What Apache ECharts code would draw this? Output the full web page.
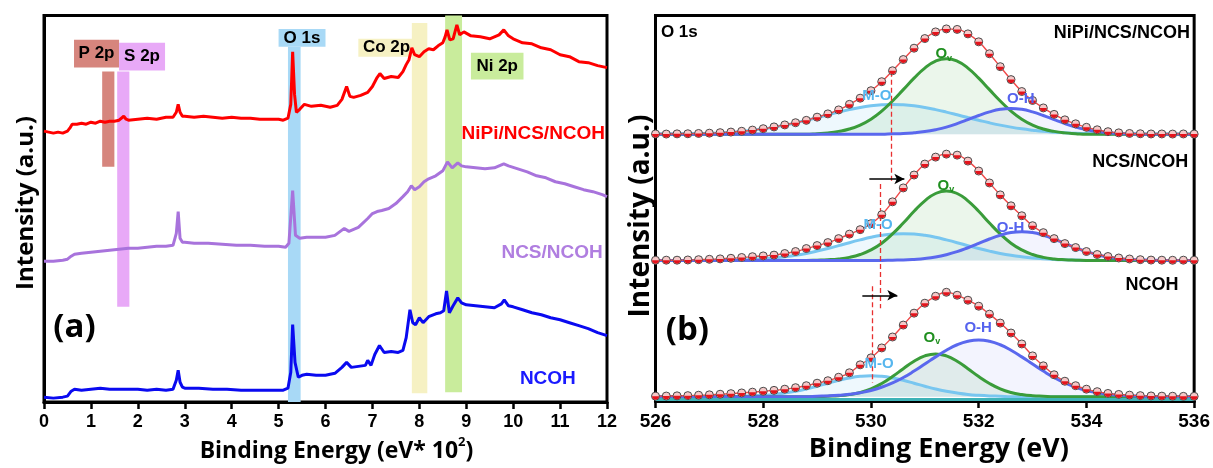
<!DOCTYPE html>
<html><head><meta charset="utf-8">
<script src="https://cdn.jsdelivr.net/npm/echarts@6/dist/echarts.min.js"></script>
<style>html,body{margin:0;padding:0;background:#fff}#c{width:1213px;height:468px}</style>
</head><body><div id="c"></div>
<script>
// ---------- Panel (a): XPS survey spectra  [energy (eV*10^2), intensity] ----------
const surveyNiPi = [[0,273],[0.1,272],[0.2,271],[0.3,272],[0.4,271],[0.5,273],[0.55,276],[0.6,280],[0.7,280],[0.8,281],[0.9,280],[1.0,282],[1.1,281],[1.2,283],[1.3,282],[1.4,283],[1.5,283],[1.6,284],[1.7,288],[1.75,285],[1.8,284],[2.0,285],[2.2,286],[2.4,285],[2.6,287],[2.75,287],[2.82,292],[2.86,300],[2.9,292],[2.95,288],[3.0,288],[3.2,287],[3.4,288],[3.6,287],[3.8,286],[4.0,287],[4.2,286],[4.4,286],[4.6,285],[4.8,285],[5.0,285],[5.1,284],[5.2,286],[5.26,300],[5.3,353],[5.34,310],[5.38,292],[5.45,295],[5.55,300],[5.7,298],[5.9,299],[6.1,297],[6.25,299],[6.35,305],[6.45,318],[6.52,308],[6.6,307],[6.75,309],[6.9,312],[7.0,318],[7.1,327],[7.16,331],[7.25,326],[7.4,328],[7.55,327],[7.65,333],[7.72,340],[7.78,345],[7.84,357],[7.9,350],[8.0,348],[8.1,353],[8.2,356],[8.3,355],[8.4,359],[8.5,362],[8.55,368],[8.59,375],[8.65,365],[8.72,366],[8.8,380],[8.86,370],[8.95,373],[9.1,369],[9.3,368],[9.5,366],[9.7,370],[9.8,375],[9.9,369],[10.0,366],[10.2,362],[10.4,361],[10.6,357],[10.8,355],[11.0,350],[11.2,348],[11.4,343],[11.6,342],[11.8,339],[12,337]];
const surveyNCS = [[0,142],[0.2,142],[0.4,143],[0.5,144],[0.58,147],[0.65,149],[0.8,150],[1.0,151],[1.2,152],[1.4,153],[1.6,154],[1.8,155],[2.0,155],[2.2,156],[2.4,157],[2.6,157],[2.75,158],[2.82,170],[2.86,192],[2.9,165],[2.95,161],[3.0,161],[3.2,160],[3.5,160],[3.8,159],[4.1,158],[4.4,158],[4.7,157],[5.0,157],[5.15,156],[5.22,160],[5.3,213],[5.36,168],[5.45,165],[5.6,166],[5.8,166],[6.0,166],[6.2,168],[6.4,175],[6.5,172],[6.7,176],[6.9,185],[7.0,190],[7.1,192],[7.2,193],[7.35,195],[7.5,200],[7.65,207],[7.75,212],[7.83,218],[7.9,214],[8.0,217],[8.1,222],[8.2,225],[8.35,228],[8.5,233],[8.6,242],[8.7,236],[8.82,241],[8.9,238],[9.0,237],[9.2,236],[9.4,235],[9.6,236],[9.8,240],[9.9,238],[10.1,235],[10.3,232],[10.5,228],[10.7,226],[10.9,222],[11.1,220],[11.3,217],[11.5,214],[11.7,212],[11.9,209],[12,207]];
const surveyNCOH = [[0,5],[0.2,4],[0.4,5],[0.5,6],[0.58,11],[0.65,13],[0.8,12],[1.0,13],[1.2,14],[1.4,13],[1.6,13],[1.8,13],[2.0,13],[2.2,12],[2.4,13],[2.6,12],[2.75,13],[2.82,22],[2.86,32],[2.9,20],[2.95,15],[3.0,14],[3.3,14],[3.6,13],[3.9,13],[4.2,12],[4.5,12],[4.8,12],[5.1,12],[5.2,14],[5.26,30],[5.3,78],[5.35,40],[5.42,25],[5.5,27],[5.6,28],[5.8,27],[6.0,27],[6.2,29],[6.35,35],[6.45,40],[6.55,35],[6.7,36],[6.85,37],[6.9,42],[6.97,37],[7.05,48],[7.15,57],[7.25,50],[7.4,51],[7.55,50],[7.65,52],[7.72,65],[7.8,93],[7.86,80],[7.92,78],[8.0,85],[8.08,80],[8.2,86],[8.35,89],[8.45,90],[8.52,92],[8.58,112],[8.64,90],[8.72,97],[8.82,105],[8.9,100],[9.0,98],[9.2,97],[9.4,96],[9.6,95],[9.75,99],[9.81,103],[9.9,97],[10.0,96],[10.2,93],[10.4,90],[10.6,88],[10.8,85],[11.0,83],[11.2,80],[11.4,77],[11.6,74],[11.8,70],[12,67]];
// element bands: [label, xFrom, xTo, yFrom, yTo]
const elementBands = [['P 2p',1.24,1.50,237,333],['S 2p',1.56,1.82,96,333],['O 1s',5.20,5.47,0,358],['Co 2p',7.84,8.17,9,382],['Ni 2p',8.55,8.91,10,390]];
const elementBoxes = [['P 2p',0.64,1.60,337,365],['S 2p',1.60,2.58,334,362],['O 1s',5.00,6.00,358,376],['Co 2p',6.70,7.90,348,366],['Ni 2p',9.10,10.22,325,352]];

// ---------- Panel (b): O 1s high resolution ----------
const E = [526.0,526.2,526.4,526.6,526.8,527.0,527.2,527.4,527.6,527.8,528.0,528.2,528.4,528.6,528.8,529.0,529.2,529.4,529.6,529.8,530.0,530.2,530.4,530.6,530.8,531.0,531.2,531.4,531.6,531.8,532.0,532.2,532.4,532.6,532.8,533.0,533.2,533.4,533.6,533.8,534.0,534.2,534.4,534.6,534.8,535.0,535.2,535.4,535.6,535.8,536.0];
// NiPi/NCS/NCOH
const topEnv = [0.3,0.2,0.4,0.5,0.8,1.1,1.6,2.2,3.0,4.2,5.6,7.4,9.4,11.6,14.0,17.2,20.5,24.5,30.1,36.3,43.8,52.9,63.9,75.2,86.6,96.3,103.0,106,105.5,101,93,81,68,55,43,34,26.5,20,14.5,10.5,7,4.5,2.6,1.4,0.8,0.5,0.3,0.3,0.2,0.3,0.2];
const topMO = [0,0,0.3,0.4,0.7,1.0,1.5,2.1,2.9,4.1,5.5,7.2,9.2,11.5,14.1,16.8,19.6,22.3,24.8,27.0,28.6,29.6,30,29.6,28.6,27.0,24.8,22.3,19.6,16.8,14.1,11.5,9.2,7.2,5.5,4.1,2.9,2.1,1.5,1.0,0.7,0.4,0.3,0,0,0,0,0,0,0,0];
const topOv = [0,0,0,0,0,0,0,0,0,0,0,0,0,0,0,0.6,1.4,2.9,5.3,9.3,15.2,23.3,33.5,44.9,56.5,66.6,73.6,76,73.6,66.6,56.5,44.9,33.5,23.3,15.2,9.3,5.3,2.9,1.4,0.6,0,0,0,0,0,0,0,0,0,0,0];
const topOH = [0,0,0,0,0,0,0,0,0,0,0,0,0,0,0,0,0,0,0,0,0,0,0.4,0.7,1.5,2.7,4.6,7.2,10.7,14.7,18.9,22.5,25.1,26,25.1,22.5,18.9,14.7,10.7,7.2,4.6,2.7,1.5,0.7,0.4,0,0,0,0,0,0];
// NCS/NCOH
const midEnv = [0.2,0.3,0.3,0.5,0.8,1.2,1.6,2.2,3.0,3.8,4.6,5.4,7,9,12,15,18,22,26.5,31,37,46,59,73,86,97,104,107,106,100,90,78,66,55,45,35,28,22,17,13,9,6,4,2.5,1.5,0.8,0.4,0.3,0.2,0.3,0.2];
const midMO = [0,0,0,0,0,0,0,0.4,0.7,1.1,1.7,2.5,3.7,5.2,7.1,9.4,12.0,14.9,17.9,20.7,23.3,25.3,26.6,27,26.6,25.3,23.3,20.7,17.9,14.9,12.0,9.4,7.1,5.2,3.7,2.5,1.7,1.1,0.7,0.4,0,0,0,0,0,0,0,0,0,0,0];
const midOv = [0,0,0,0,0,0,0,0,0,0,0,0,0,0,0,0.3,0.7,1.5,3.1,6.0,10.6,17.4,26.7,37.7,49.5,60.0,67.4,70,67.4,60.0,49.5,37.7,26.7,17.4,10.6,6.0,3.1,1.5,0.7,0.3,0,0,0,0,0,0,0,0,0,0,0];
const midOH = [0,0,0,0,0,0,0,0,0,0,0,0,0,0,0,0,0,0,0,0,0,0,0.3,0.5,1.1,2.0,3.5,5.8,8.9,12.8,17.1,21.6,25.4,28.1,29,28.1,25.4,21.6,17.1,12.8,8.9,5.8,3.5,2.0,1.1,0.5,0.3,0,0,0,0];
// NCOH
const botEnv = [0.5,0.6,0.8,1.0,1.4,1.8,2.4,3.0,3.7,4.5,5.4,6.3,7.5,9,11,13.5,16,19.5,24,32,39,49,60,72,84,94,101,105,102,97,91,83,74,64,53,41,31,22,15.5,11,7.5,5,3.2,2.2,1.5,1.0,0.7,0.5,0.4,0.3,0.3];
const botMO = [0,0,0,0,0,0,0,0,0.4,0.7,1.3,2.2,3.6,5.4,7.7,10.5,13.5,16.4,18.8,20.4,21,20.4,18.8,16.4,13.5,10.5,7.7,5.4,3.6,2.2,1.3,0.7,0.4,0,0,0,0,0,0,0,0,0,0,0,0,0,0,0,0,0,0];
const botOv = [0,0,0,0,0,0,0,0,0,0,0,0,0,0,0,0,0.4,0.9,2.1,4.2,7.8,13.2,20.2,28.1,35.6,41.0,43,41.0,35.6,28.1,20.2,13.2,7.8,4.2,2.1,0.9,0.4,0,0,0,0,0,0,0,0,0,0,0,0,0,0];
const botOH = [0,0,0,0,0,0,0,0,0,0,0,0,0,0,0,0.4,0.7,1.3,2.3,3.9,6.2,9.5,13.8,19.2,25.7,32.8,40.0,46.7,52.2,55.7,57,55.7,52.2,46.7,40.0,32.8,25.7,19.2,13.8,9.5,6.2,3.9,2.3,1.3,0.7,0.4,0,0,0,0,0];
// vertical stacking offset of each spectrum
const stackOffset = {top:270, mid:143, bot:6};

// ---------- styles ----------
const C = {red:'#ff0000', purple:'#a873dc', blue:'#0a0af0', mo:'#78c6f0', ov:'#3a9c3a', oh:'#5a68ee'};
const FONT = 'Liberation Sans';
const FONT2 = 'Open Sans';
const HALF = 'path://M0,0L2,0L1.95,0.31L1.81,0.59L1.59,0.81L1.31,0.95L1,1L0.69,0.95L0.41,0.81L0.19,0.59L0.05,0.31Z';

const bandColors = {'P 2p':'#d6857d','S 2p':'#e8a9f7','O 1s':'#a8d9f6','Co 2p':'#f6f1c3','Ni 2p':'#c9ec9c'};

function textSeries(xi, items){
  return {type:'scatter', xAxisIndex:xi, yAxisIndex:xi, symbolSize:1, silent:true, z:20,
    itemStyle:{color:'rgba(0,0,0,0)', opacity:1},
    data: items.map(t=>({value:t.at, label:{show:true, position:[0,0], formatter:t.text, color:t.color,
      fontSize:t.size, fontWeight:'bold', fontFamily:t.font||FONT, align:t.align||'center', verticalAlign:'middle',
      rich:{s:{fontSize:Math.round(t.size*0.62), fontWeight:'bold', color:t.color, fontFamily:t.font||FONT, padding:[9,0,0,0]}}}}))};
}
function comp(vals, base, color, fill){
  return {type:'line', xAxisIndex:1, yAxisIndex:1, smooth:true, showSymbol:false, silent:true, z:3,
    data:E.map((e,i)=>[e, base+vals[i]]), lineStyle:{color, width:3},
    areaStyle:{origin:base, color:fill}};
}
function envelope(vals, base){
  const d = E.map((e,i)=>[e, base+vals[i]]);
  return [
    {type:'line', xAxisIndex:1, yAxisIndex:1, smooth:true, showSymbol:false, silent:true, z:4, data:d, lineStyle:{color:'#f04848', width:1.4}},
    {type:'scatter', xAxisIndex:1, yAxisIndex:1, silent:true, z:5, data:d, symbol:'circle', symbolSize:8, itemStyle:{color:'#f6c8c8', borderColor:'#4a4a4a', borderWidth:1, opacity:1}},
    {type:'scatter', xAxisIndex:1, yAxisIndex:1, silent:true, z:6, data:d, symbol:HALF, symbolSize:[7,3.5], symbolOffset:[0,1.75], itemStyle:{color:'#e4141c', opacity:1}}
  ];
}
function block(env, mo, ov, oh, base){
  return [comp(mo, base, C.mo, 'rgba(120,198,240,0.18)'), comp(ov, base, C.ov, 'rgba(110,190,110,0.20)'), comp(oh, base, C.oh, 'rgba(90,104,238,0.10)'), ...envelope(env, base)];
}

const series = [];
// bands & boxes (panel a)
series.push({type:'line', xAxisIndex:0, yAxisIndex:0, data:[], silent:true, z:1,
  markArea:{silent:true, data:[
    ...elementBands.map(b=>[{xAxis:b[1], yAxis:b[3], itemStyle:{color:bandColors[b[0]]}}, {xAxis:b[2], yAxis:b[4]}]),
    ...elementBoxes.map(b=>[{name:b[0], xAxis:b[1], yAxis:b[3], itemStyle:{color:bandColors[b[0]]},
       label:{show:true, position:'inside', color:'#000', fontSize:17, fontWeight:'bold', fontFamily:FONT}}, {xAxis:b[2], yAxis:b[4]}])
  ]}});
[[surveyNiPi,C.red],[surveyNCS,C.purple],[surveyNCOH,C.blue]].forEach(([d,c])=>{
  series.push({type:'line', xAxisIndex:0, yAxisIndex:0, data:d, showSymbol:false, silent:true, z:3, lineStyle:{color:c, width:3}});
});
series.push(textSeries(0,[
  {at:[11.97,270], text:'NiPi/NCS/NCOH', color:C.red, size:19, align:'right'},
  {at:[11.92,150], text:'NCS/NCOH', color:'#b07ee0', size:19, align:'right'},
  {at:[10.75,23], text:'NCOH', color:'#1a1aff', size:19},
  {at:[0.66,75], text:'(a)', color:'#000', size:33, font:FONT2}
]));
// panel b
series.push(...block(topEnv, topMO, topOv, topOH, stackOffset.top));
series.push(...block(midEnv, midMO, midOv, midOH, stackOffset.mid));
series.push(...block(botEnv, botMO, botOv, botOH, stackOffset.bot));
series.push({type:'line', xAxisIndex:1, yAxisIndex:1, data:[], silent:true, z:2,
  markLine:{silent:true, symbol:['none','none'], label:{show:false},
    data:[{yAxis:stackOffset.bot-3, lineStyle:{color:'#3db3b8', type:'solid', width:3}}]}});
series.push({type:'line', xAxisIndex:1, yAxisIndex:1, data:[], silent:true, z:8,
  markLine:{silent:true, symbol:['none','none'], label:{show:false}, lineStyle:{color:'#e83030', type:[5,3], width:1.3},
    data:[
      [{coord:[530.37,333]},{coord:[530.37,222]}],
      [{coord:[530.17,220]},{coord:[530.17,95]}],
      [{coord:[530.02,117]},{coord:[530.02,20]}],
      [{coord:[529.97,225], symbol:'none', lineStyle:{color:'#000', type:'solid', width:1.6}},{coord:[530.62,225], symbol:'arrow', symbolSize:[8,10]}],
      [{coord:[529.84,108], symbol:'none', lineStyle:{color:'#000', type:'solid', width:1.6}},{coord:[530.49,108], symbol:'arrow', symbolSize:[8,10]}]
    ]}});
series.push(textSeries(1,[
  {at:[526.11,372], text:'O 1s', color:'#000', size:17, align:'left'},
  {at:[535.93,371], text:'NiPi/NCS/NCOH', color:'#000', size:18, align:'right'},
  {at:[535.9,242], text:'NCS/NCOH', color:'#000', size:18, align:'right'},
  {at:[535.72,118], text:'NCOH', color:'#000', size:18, align:'right'},
  {at:[531.36,350], text:'O{s|v}', color:'#1f8f1f', size:15},
  {at:[530.12,308], text:'M-O', color:'#56b6ee', size:15},
  {at:[532.79,305], text:'O-H', color:'#5563ee', size:15},
  {at:[531.4,218], text:'O{s|v}', color:'#1f8f1f', size:15},
  {at:[530.14,178], text:'M-O', color:'#56b6ee', size:15},
  {at:[532.6,175], text:'O-H', color:'#5563ee', size:15},
  {at:[531.14,65], text:'O{s|v}', color:'#1f8f1f', size:15},
  {at:[530.16,38], text:'M-O', color:'#56b6ee', size:15},
  {at:[532.0,75], text:'O-H', color:'#5563ee', size:15},
  {at:[526.6,72], text:'(b)', color:'#000', size:33, font:FONT2}
]));

function xAx(gi, min, max, interval, name, pad, sz, nsz){
  return {type:'value', gridIndex:gi, min, max, interval,
    axisLine:{show:true, onZero:false, lineStyle:{color:'#000', width:3}},
    axisTick:{show:true, inside:false, length:7, lineStyle:{color:'#000', width:2.5}},
    axisLabel:{color:'#000', fontSize:sz, fontWeight:'bold', fontFamily:FONT, margin:11},
    splitLine:{show:false},
    name, nameLocation:'middle', nameGap:32,
    nameTextStyle:{color:'#000', fontSize:nsz, fontWeight:'bold', fontFamily:FONT2, padding:pad,
      rich:{sup:{fontSize:13, fontWeight:'bold', fontFamily:FONT2, color:'#000', padding:[0,0,18,0]}}}};
}
function yAx(gi, min, max){
  return {type:'value', gridIndex:gi, min, max, axisLine:{show:true, onZero:false, lineStyle:{color:'#000', width:3}},
    axisTick:{show:false}, axisLabel:{show:false}, splitLine:{show:false}};
}

const chart = echarts.init(document.getElementById('c'), null, {renderer:'canvas'});
chart.setOption({
  animation:false,
  backgroundColor:'#fff',
  grid:[
    {left:44, right:606, top:15.5, bottom:63, show:true, borderColor:'#000', borderWidth:3, backgroundColor:'transparent'},
    {left:655.5, right:18.5, top:15.5, bottom:64.5, show:true, borderColor:'#000', borderWidth:3, backgroundColor:'transparent'}
  ],
  xAxis:[xAx(0,0,12,1,'Binding Energy (eV* 10{sup|2})',[0,0,0,22],18,23), xAx(1,526,536,2,'Binding Energy (eV)',[0,0,0,28],19,27)],
  yAxis:[yAx(0,0,389.5), yAx(1,1.5,389.5)],
  graphic:[
    {type:'text', x:26, y:203, rotation:Math.PI/2, silent:true, style:{text:'Intensity (a.u.)', font:'bold 24px "Open Sans"', fill:'#000', align:'center', verticalAlign:'middle', textAlign:'center', textVerticalAlign:'middle'}},
    {type:'text', x:641, y:216, rotation:Math.PI/2, silent:true, style:{text:'Intensity (a.u.)', font:'bold 28px "Open Sans"', fill:'#000', align:'center', verticalAlign:'middle', textAlign:'center', textVerticalAlign:'middle'}}
  ],
  series
});
</script></body></html>
